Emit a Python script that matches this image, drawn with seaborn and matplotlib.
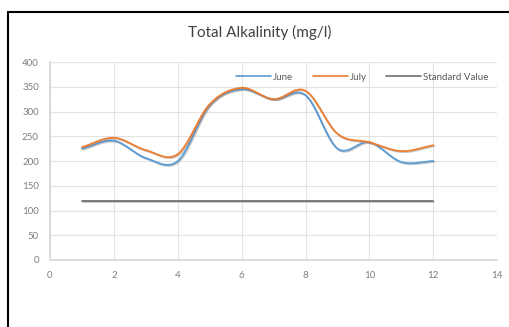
import numpy as np
import pandas as pd
import seaborn as sns
import matplotlib.pyplot as plt
import matplotlib.patheffects as pe
from matplotlib.lines import Line2D

# dados
months = [1, 2, 3, 4, 5, 6, 7, 8, 9, 10, 11, 12]
june = [225, 241, 206, 200, 313, 345, 325, 333, 225, 238, 198, 200]
july = [228, 247, 222, 214, 315, 348, 325, 342, 255, 238, 220, 232]
standard = [120] * 12

series_names = ['June', 'July', 'Standard Value']
colors = ['#5B9BD5', '#ED7D31', '#707070']


def smooth(x, y, n=30):
    # linha suavizada tipo Excel (Catmull-Rom)
    x = np.asarray(x, float)
    y = np.asarray(y, float)
    px = np.concatenate([[2 * x[0] - x[1]], x, [2 * x[-1] - x[-2]]])
    py = np.concatenate([[y[0]], y, [y[-1]]])
    py[0] = y[0] - (y[1] - y[0])
    py[-1] = y[-1] + (y[-1] - y[-2])
    xs, ys = [], []
    t = np.linspace(0, 1, n, endpoint=False)
    for i in range(1, len(px) - 2):
        for p, out in ((px, xs), (py, ys)):
            p0, p1, p2, p3 = p[i - 1], p[i], p[i + 1], p[i + 2]
            m1 = (p2 - p0) / 2
            m2 = (p3 - p1) / 2
            out.extend((2 * t**3 - 3 * t**2 + 1) * p1 + (t**3 - 2 * t**2 + t) * m1
                       + (-2 * t**3 + 3 * t**2) * p2 + (t**3 - t**2) * m2)
    xs.append(x[-1])
    ys.append(y[-1])
    return np.array(xs), np.array(ys)


sns.set_theme(style='white')
plt.rcParams['font.family'] = ['Lato', 'DejaVu Sans']

fig = plt.figure(figsize=(5.1, 3.27), dpi=100)
ax = fig.add_axes([0.098, 0.205, 0.877, 0.605])

shadow = [pe.SimpleLineShadow(offset=(0.7, -0.7), shadow_color='#808080', alpha=0.45), pe.Normal()]
for name, vals, c in zip(series_names, [june, july, standard], colors):
    sx, sy = smooth(months, vals)
    sns.lineplot(x=sx, y=sy, ax=ax, color=c, linewidth=1.3,
                 sort=False, estimator=None, path_effects=shadow)

ax.set_xlim(0, 14)
ax.set_ylim(0, 400)
ax.set_xticks(range(0, 15, 2))
ax.set_yticks(range(0, 401, 50))
ax.grid(True, color='#E3E3E3', linewidth=0.8)
for s in ['top', 'right']:
    ax.spines[s].set_visible(False)
for s in ['left', 'bottom']:
    ax.spines[s].set_color('#D9D9D9')
ax.tick_params(axis='both', labelsize=7, colors='#7F7F7F', length=0, pad=8)

handles = [Line2D([], [], color=c, linewidth=1.2) for c in colors]
ax.legend(handles, series_names, loc='upper right', frameon=False, fontsize=7, ncol=3,
          labelcolor='#595959', handlelength=3.6, columnspacing=2.0, handletextpad=0.2,
          bbox_to_anchor=(1.0, 0.99))

fig.text(0.51, 0.9, 'Total Alkalinity (mg/l)', ha='center', va='center', fontsize=11, color='#404040')

# borda preta da captura
fig.add_artist(Line2D([0.016, 0.016], [0, 0.962], color='black', linewidth=1.5, transform=fig.transFigure))
fig.add_artist(Line2D([0.016, 1], [0.962, 0.962], color='black', linewidth=1.5, transform=fig.transFigure))

fig.savefig('out.png', dpi=100)
